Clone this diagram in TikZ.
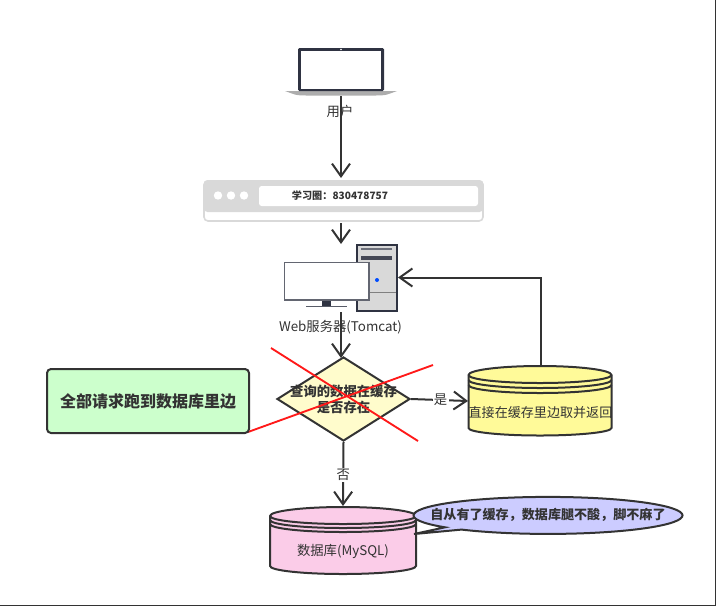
\documentclass[tikz,border=0pt]{standalone}
\usepackage{fontspec}
\setmainfont{Noto Sans CJK SC}
\usetikzlibrary{positioning,shapes.geometric,arrows.meta}
\definecolor{ink}{HTML}{333333}
\definecolor{dark}{HTML}{2F3342}
\definecolor{barcol}{HTML}{D9D9D9}
\tikzset{
  flow/.style={ink,line width=1.5pt,-{Straight Barb[length=9.5pt,width=13.5pt,line width=1.5pt]}},
  outline/.style={draw=ink,line width=1.5pt},
  lbl/.style={text=ink,font=\fontsize{10pt}{12pt}\selectfont,inner sep=1pt},
  boldlbl/.style={text=ink,font=\fontsize{10pt}{12.5pt}\selectfont\bfseries,inner sep=0pt,align=center},
  cross/.style={red!90,line width=1.4pt}
}
\begin{document}
\begin{tikzpicture}[x=0.75pt,y=-0.75pt]
  \useasboundingbox (0,0) rectangle (716,607);
  \draw[ink,line width=1pt] (0,605.7) -- (715.3,605.7) -- (715.3,0);

  % laptop
  \fill[black!32] (285,91) -- (397,91) .. controls (385,95.5) .. (375,95.5) -- (307,95.5) .. controls (297,95.5) .. (285,91) -- cycle;
  \fill[dark,rounded corners=1pt] (298,48) rectangle (384,91);
  \fill[white] (301,51) rectangle (381,89);
  \fill[white] (341,49.5) circle (.8);
  \coordinate (user) at (341,96);

  % browser
  \draw[barcol,fill=white,line width=1.2pt,rounded corners=3pt] (204,181) rectangle (483,221);
  \fill[barcol,rounded corners=3pt] (203.5,180) rectangle (483.5,212);
  \fill[white,rounded corners=2pt] (259,186) rectangle (478,206);
  \foreach \cx in {218,231,244} \fill[white] (\cx,195.5) circle (4.2);
  \node[text=ink,font=\fontsize{7.6pt}{9pt}\selectfont\bfseries,inner sep=0pt] (url) at (340,196) {学习圈：830478757};
  \coordinate (browsertop) at (341,178);
  \coordinate (browserbot) at (341,223);

  % server
  \draw[fill=gray!30,draw=dark,line width=1.5pt] (357,245) rectangle (396.5,311);
  \draw[dark!70,line width=1.5pt] (361,249) -- (392,249);
  \draw[dark!90,line width=3pt] (361,257.5) -- (392,257.5);
  \draw[gray,line width=.7pt] (357,292.5) -- (396,292.5);
  \fill[blue!70!cyan] (377,280) circle (2);
  \coordinate (srvright) at (398,277.5);
  \coordinate (srvtop) at (341,244);
  \coordinate (srvbot) at (341,312);
  % monitor
  \fill[dark] (322,300) rectangle (331,306);
  \draw[dark!80,line width=1.2pt] (306,306.5) -- (347,306.5);
  \draw[fill=white,draw=dark!75,line width=1.2pt] (284.5,262.5) rectangle (369,300);
  \node[lbl] (web) at (340.5,327) {Web服务器(Tomcat)};

  % decision
  \node[diamond,outline,fill=yellow!20,minimum width=133*0.75pt,minimum height=84*0.75pt,inner sep=0pt] (check) at (343.5,399) {};
  \node[boldlbl] (checktext) at (343.5,399.5) {查询的数据在缓存\\是否存在};
  \coordinate (checktop) at (341,358);

  % red cross
  \draw[cross] (271,348) -- (418,441);
  \draw[cross] (248,432) -- (433,365);

  % cache
  \path[outline,fill=yellow!40] (468.5,375) -- (468.5,428) arc[start angle=180,end angle=0,x radius=71.5,y radius=7.5] -- (611.5,375) arc[start angle=0,end angle=-180,x radius=71.5,y radius=9] -- cycle;
  \foreach \ry in {375,380,385}
    \draw[outline] (468.5,\ry) arc[start angle=180,end angle=0,x radius=71.5,y radius=8];
  \node[lbl,font=\fontsize{9.8pt}{12pt}\selectfont] (cache) at (540.5,413) {直接在缓存里边取并返回};
  \coordinate (cachel) at (468,401);
  \coordinate (cachet) at (541,366);

  % mysql
  \path[outline,fill=magenta!20] (270,516) -- (270,566) arc[start angle=180,end angle=0,x radius=73,y radius=8] -- (416,516) arc[start angle=0,end angle=-180,x radius=73,y radius=9] -- cycle;
  \foreach \ry in {516,520,524}
    \draw[outline] (270,\ry) arc[start angle=180,end angle=0,x radius=73,y radius=8];
  \node[lbl] (mysql) at (343,551) {数据库(MySQL)};
  \coordinate (mysqltop) at (343,506);

  % green note
  \node[outline,fill=green!20,rounded corners=3pt,minimum width=202*0.75pt,minimum height=64*0.75pt,inner sep=0pt,text=ink,font=\fontsize{12pt}{14pt}\selectfont\bfseries] (note) at (148,401) {全部请求跑到数据库里边};

  % speech bubble
  \path[outline,fill=blue!20] (445,527.3) arc[start angle=140,end angle=490,x radius=134.5,y radius=18.5] -- (414,534) -- cycle;
  \node[boldlbl,font=\fontsize{9.8pt}{12pt}\selectfont\bfseries] (bubble) at (548,515) {自从有了缓存，数据库腿不酸，脚不麻了};

  % connectors
  \draw[flow] (user) -- (browsertop);
  \node[lbl] (usertxt) at (340,111) {用户};
  \draw[flow] (browserbot) -- (srvtop);
  \draw[flow] (srvbot) -- (checktop);
  \draw[flow] (check.east) -- node[lbl,fill=white,pos=.52] {是} (cachel);
  \draw[flow] (check.south) -- node[lbl,fill=white,pos=.52] {否} (mysqltop);
  \draw[flow] (cachet) |- (srvright);
\end{tikzpicture}
\end{document}
